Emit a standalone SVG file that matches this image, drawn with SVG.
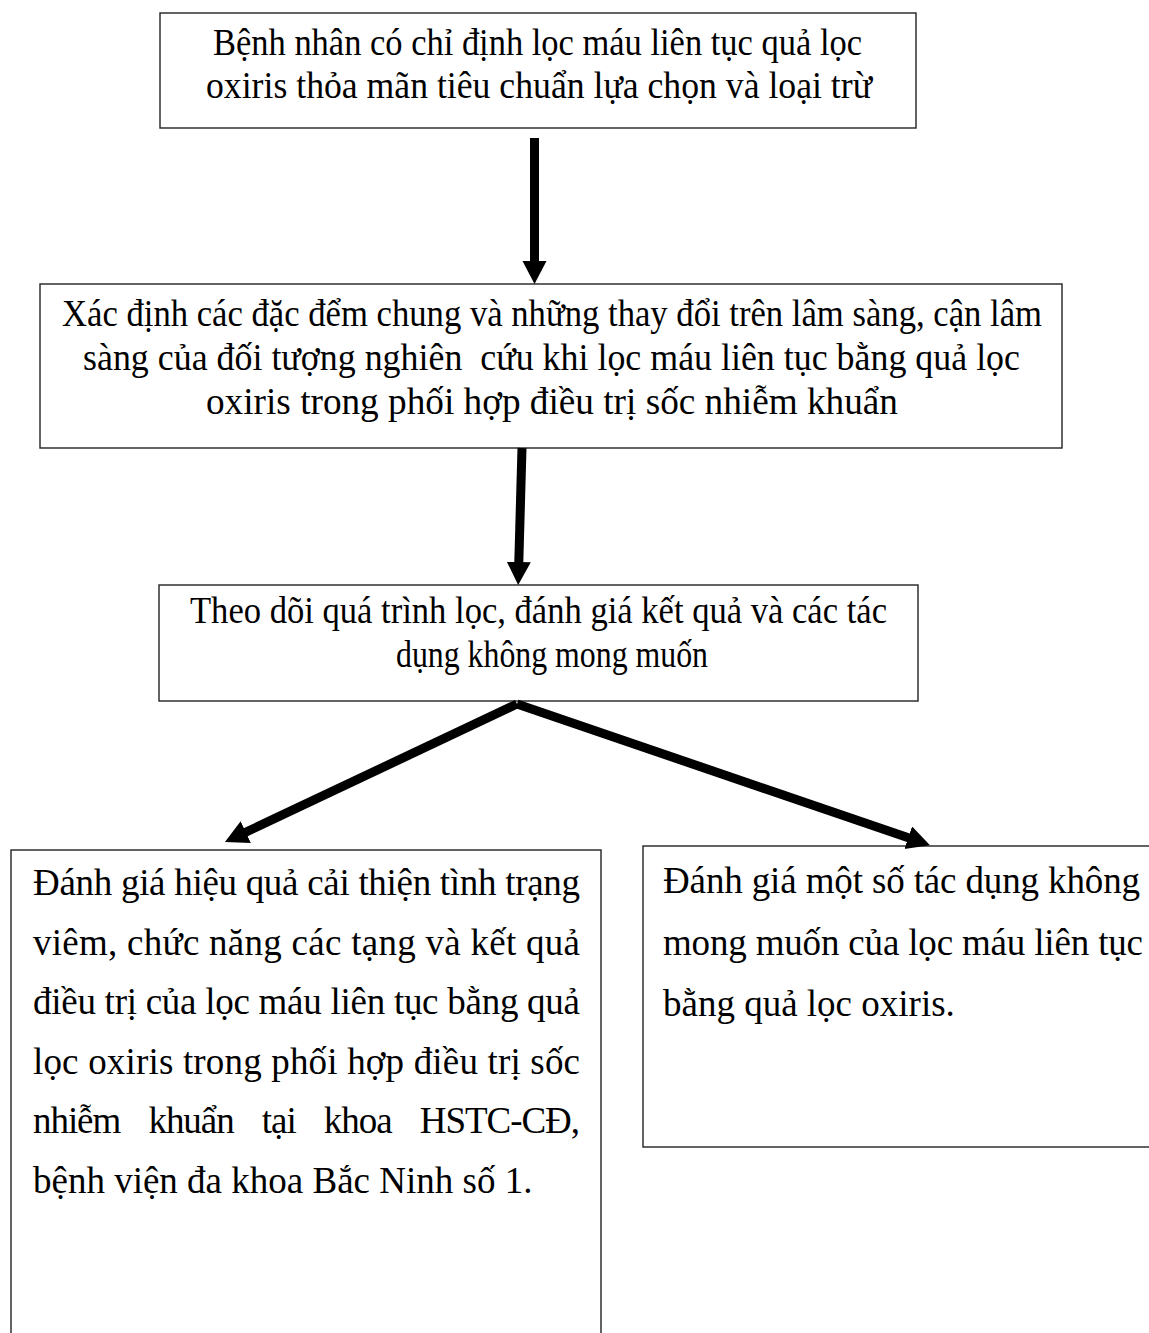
<svg xmlns="http://www.w3.org/2000/svg" width="1149" height="1333" viewBox="0 0 1149 1333">
<style>
  .box { fill: #ffffff; stroke: #222222; stroke-width: 1.4; }
  .t { font-family: "Liberation Serif", "Times New Roman", serif; fill: #000000; }
  .s34 { font-size: 37px; }
  .s36 { font-size: 37px; }
  .conn { stroke: #000000; stroke-width: 9; fill: none; marker-end: url(#ah); }
</style>
<defs>
  <marker id="ah" markerUnits="userSpaceOnUse" markerWidth="26" markerHeight="26" refX="11" refY="12" orient="auto">
    <path d="M0,0 L23,12 L0,24 Z" fill="#000000"/>
  </marker>
</defs>
<rect width="1149" height="1333" fill="#ffffff"/>

<g id="node-start">
  <rect class="box" x="160" y="13" width="756" height="115"/>
  <text class="t s34" x="213" y="55" textLength="649" lengthAdjust="spacingAndGlyphs">Bệnh nhân có chỉ định lọc máu liên tục quả lọc</text>
  <text class="t s34" x="206" y="98" textLength="666" lengthAdjust="spacingAndGlyphs">oxiris thỏa mãn tiêu chuẩn lựa chọn và loại trừ</text>
</g>

<g id="node-characteristics">
  <rect class="box" x="40" y="284" width="1022" height="164"/>
  <text class="t s34" x="62" y="326" textLength="980" lengthAdjust="spacingAndGlyphs">Xác định các đặc đểm chung và những thay đổi trên lâm sàng, cận lâm</text>
  <text class="t s34" x="83" y="370" textLength="937" lengthAdjust="spacingAndGlyphs" xml:space="preserve">sàng của đối tượng nghiên  cứu khi lọc máu liên tục bằng quả lọc</text>
  <text class="t s34" x="206" y="414" textLength="692" lengthAdjust="spacingAndGlyphs">oxiris trong phối hợp điều trị sốc nhiễm khuẩn</text>
</g>

<g id="node-monitor">
  <rect class="box" x="159" y="585" width="759" height="116"/>
  <text class="t s34" x="190" y="623" textLength="697" lengthAdjust="spacingAndGlyphs">Theo dõi quá trình lọc, đánh giá kết quả và các tác</text>
  <text class="t s34" x="396" y="667" textLength="312" lengthAdjust="spacingAndGlyphs">dụng không mong muốn</text>
</g>

<g id="node-efficacy">
  <rect class="box" x="11" y="850" width="590" height="500"/>
  <text class="t s36" x="33" y="895" textLength="547" lengthAdjust="spacing">Đánh giá hiệu quả cải thiện tình trạng</text>
  <text class="t s36" x="33" y="955" textLength="547" lengthAdjust="spacing">viêm, chức năng các tạng và kết quả</text>
  <text class="t s36" x="33" y="1014" textLength="547" lengthAdjust="spacing">điều trị của lọc máu liên tục bằng quả</text>
  <text class="t s36" x="33" y="1074" textLength="547" lengthAdjust="spacing">lọc oxiris trong phối hợp điều trị sốc</text>
  <text class="t s36" x="33" y="1133" textLength="547" lengthAdjust="spacing" word-spacing="20">nhiễm khuẩn tại khoa HSTC-CĐ,</text>
  <text class="t s36" x="33" y="1193">bệnh viện đa khoa Bắc Ninh số 1.</text>
</g>

<g id="node-adverse">
  <rect class="box" x="643" y="846" width="520" height="301"/>
  <text class="t s36" x="663" y="893" textLength="477" lengthAdjust="spacing">Đánh giá một số tác dụng không</text>
  <text class="t s36" x="663" y="955" textLength="480" lengthAdjust="spacing">mong muốn của lọc máu liên tục</text>
  <text class="t s36" x="663" y="1016">bằng quả lọc oxiris.</text>
</g>

<g id="connectors">
  <line class="conn" x1="534.5" y1="138" x2="534.5" y2="272"/>
  <line class="conn" x1="522" y1="448" x2="518.5" y2="573"/>
  <line class="conn" x1="517" y1="704" x2="235.8" y2="836.9"/>
  <line class="conn" x1="517" y1="704" x2="918.6" y2="841.3"/>
</g>
</svg>
